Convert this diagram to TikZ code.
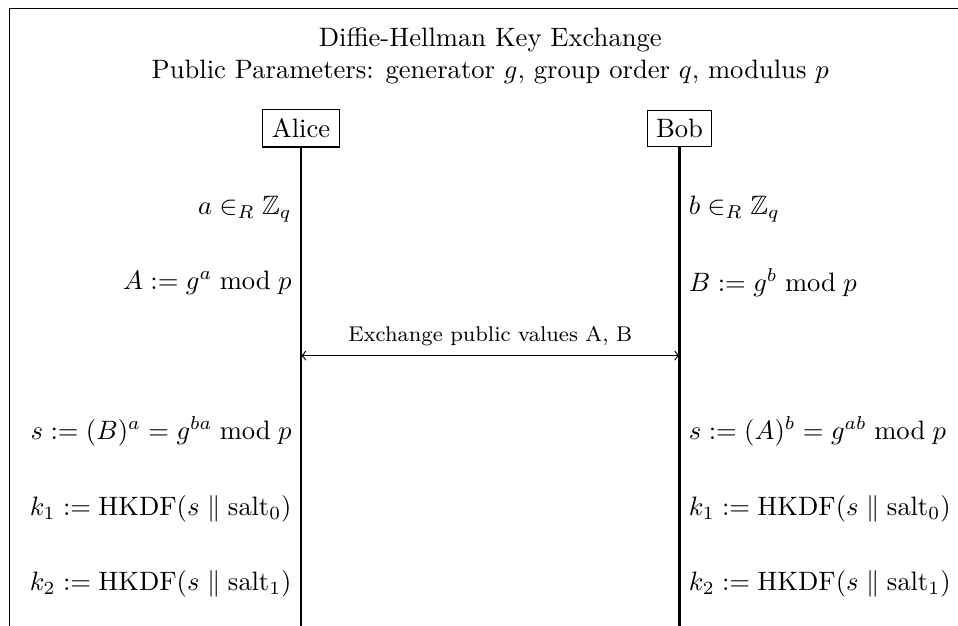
\documentclass[tikz,border=0pt]{standalone}
\usepackage{amsmath,amssymb}
\begin{document}
\begin{tikzpicture}[
  party/.style={draw, line width=0.4pt},
  lifeline/.style={thick},
  lefttext/.style={anchor=east},
  righttext/.style={anchor=west},
  msg/.style={<->, line width=0.45pt},
  frameline/.style={line width=0.4pt}
]
\useasboundingbox (-3.976,1.697) rectangle (8.679,-6.572);
% frame (cut by the page on the right and at the bottom)
\coordinate (fbl) at (-3.85,-6.572);
\coordinate (ftr) at (8.679,1.59);
\draw[frameline] (fbl) |- (ftr);
% title
\node[align=center] (title) at (2.5,0.96) {Diffie-Hellman Key Exchange\\Public Parameters: generator $g$, group order $q$, modulus $p$};
% parties
\node[party] (alice) at (0,0) {Alice};
\node[party] (bob) at (5,0) {Bob};
\coordinate (aend) at (0,-6.572);
\coordinate (bend) at (5,-6.572);
\draw[lifeline] (alice) -- (aend);
\draw[lifeline] (bob) -- (bend);
% Alice side
\node[lefttext] (a1) at (0,-1.06) {$a \in_R \mathbb{Z}_q$};
\node[lefttext] (a2) at (0,-2.04) {$A := g^a \bmod p$};
\node[lefttext] (a3) at (0,-4) {$s := (B)^a = g^{ba} \bmod p$};
\node[lefttext] (a4) at (0,-5.02) {$k_1 := \mathrm{HKDF}(s \parallel \mathrm{salt}_0)$};
\node[lefttext] (a5) at (0,-6.02) {$k_2 := \mathrm{HKDF}(s \parallel \mathrm{salt}_1)$};
% Bob side
\node[righttext] (b1) at (5,-1.06) {$b \in_R \mathbb{Z}_q$};
\node[righttext] (b2) at (5,-2.04) {$B := g^b \bmod p$};
\node[righttext] (b3) at (5,-4) {$s := (A)^b = g^{ab} \bmod p$};
\node[righttext] (b4) at (5,-5.02) {$k_1 := \mathrm{HKDF}(s \parallel \mathrm{salt}_0)$};
\node[righttext] (b5) at (5,-6.02) {$k_2 := \mathrm{HKDF}(s \parallel \mathrm{salt}_1)$};
% exchange
\coordinate (aex) at (0,-3);
\coordinate (bex) at (5,-3);
\draw[msg] (aex) -- node[above, font=\footnotesize] (ex) {Exchange public values A, B} (bex);
\end{tikzpicture}
\end{document}
